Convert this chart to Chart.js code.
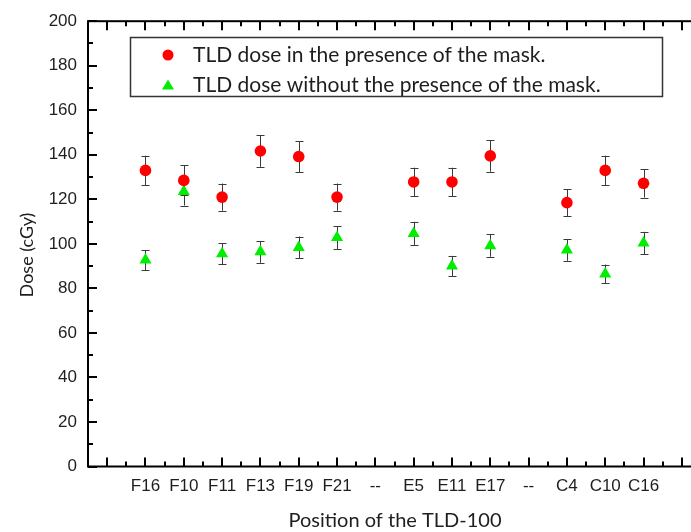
<!DOCTYPE html>
<html>
<head>
<meta charset="utf-8">
<script src="https://cdn.jsdelivr.net/npm/chart.js@4/dist/chart.umd.min.js"></script>
<style>
  html, body { margin: 0; padding: 0; background: #fff; overflow: hidden; }
  #wrap { position: relative; width: 720px; height: 532px; }
</style>
</head>
<body>
<div id="wrap"><canvas id="c" width="720" height="532"></canvas></div>
<script>
// Category slots along the x axis (empty slots pad both ends).
const positions = ["", "F16", "F10", "F11", "F13", "F19", "F21", "--", "E5", "E11", "E17", "--", "C4", "C10", "C16", ""];
// Slot index of every measured TLD position.
const measuredAt = [1, 2, 3, 4, 5, 6, 8, 9, 10, 12, 13, 14];
// Dose (cGy) with the mask in place, and its uncertainty.
const withMask    = [133.0, 128.5, 121.0, 141.7, 139.2, 121.0, 127.8, 127.8, 139.5, 118.5, 133.0, 127.2];
const withMaskErr = [6.6, 6.7, 6.1, 7.1, 6.9, 6.1, 6.4, 6.4, 7.1, 6.0, 6.6, 6.4];
// Dose (cGy) without the mask, and its uncertainty.
const withoutMask    = [92.7, 123.5, 95.5, 96.4, 98.4, 102.8, 104.7, 90.1, 99.2, 97.2, 86.5, 100.4];
const withoutMaskErr = [4.5, 6.3, 4.7, 4.9, 4.9, 5.2, 5.2, 4.5, 5.0, 4.8, 4.2, 5.0];
// Dose axis ticks.
const yTicks = [0, 20, 40, 60, 80, 100, 120, 140, 160, 180, 200];

const legendLabels = [
  "TLD dose in the presence of the mask.",
  "TLD dose without the presence of the mask."
];

const RED = "#ff0000";
const GREEN = "#00ee00";
const TEXT = "#1e1e1e";
const TITLE_FONT = "Lato, 'Open Sans', sans-serif";
const TICK_FONT = "'Liberation Sans', Arial, sans-serif";

const toPoints = (vals, errs) => vals.map((v, i) => ({ x: measuredAt[i], y: v, err: errs[i] }));

// Vertical error bars with caps, drawn beneath the markers.
const errorBars = {
  id: "errorBars",
  beforeDatasetsDraw(chart) {
    const { ctx, scales: { x, y } } = chart;
    ctx.save();
    ctx.strokeStyle = "#3a3a3a";
    ctx.lineWidth = 1;
    chart.data.datasets.forEach(ds => {
      ds.data.forEach(p => {
        const px = Math.round(x.getPixelForValue(p.x)) + 0.5;
        const top = y.getPixelForValue(p.y + p.err);
        const bot = y.getPixelForValue(p.y - p.err);
        ctx.beginPath();
        ctx.moveTo(px, top); ctx.lineTo(px, bot);
        ctx.moveTo(px - 4, Math.round(top) + 0.5); ctx.lineTo(px + 4, Math.round(top) + 0.5);
        ctx.moveTo(px - 4, Math.round(bot) + 0.5); ctx.lineTo(px + 4, Math.round(bot) + 0.5);
        ctx.stroke();
      });
    });
    ctx.restore();
  }
};

// Closed frame with inward major/minor tick marks on all four sides.
const frame = {
  id: "frame",
  afterDatasetsDraw(chart) {
    const { ctx, chartArea: a, scales: { x, y } } = chart;
    ctx.save();
    ctx.strokeStyle = "#000";
    ctx.lineWidth = 2;
    ctx.strokeRect(a.left, a.top, a.right - a.left, a.bottom - a.top);
    ctx.beginPath();
    for (let v = 0; v <= 200; v += 10) {
      const py = Math.round(y.getPixelForValue(v));
      const len = v % 20 === 0 ? 9 : 5;
      ctx.moveTo(a.left, py); ctx.lineTo(a.left + len, py);
      ctx.moveTo(a.right, py); ctx.lineTo(a.right - len, py);
    }
    for (let v = 0; v <= positions.length - 1; v += 0.5) {
      const px = Math.round(x.getPixelForValue(v));
      const len = Number.isInteger(v) ? 9 : 5;
      ctx.moveTo(px, a.bottom); ctx.lineTo(px, a.bottom - len);
      ctx.moveTo(px, a.top); ctx.lineTo(px, a.top + len);
    }
    ctx.stroke();
    ctx.restore();
  }
};

// Boxed legend in the upper part of the plot, plus both axis titles.
const annotations = {
  id: "annotations",
  afterDraw(chart) {
    const { ctx } = chart;
    ctx.save();
    ctx.fillStyle = "#fff";
    ctx.fillRect(130, 37, 533, 60);
    ctx.strokeStyle = "#333";
    ctx.lineWidth = 1.5;
    ctx.strokeRect(130.5, 37.5, 532, 59);

    ctx.fillStyle = RED;
    ctx.beginPath(); ctx.arc(168, 55, 5.5, 0, Math.PI * 2); ctx.fill();
    ctx.fillStyle = GREEN;
    ctx.beginPath();
    ctx.moveTo(168, 79.5); ctx.lineTo(174, 89.5); ctx.lineTo(162, 89.5); ctx.closePath(); ctx.fill();

    ctx.fillStyle = TEXT;
    ctx.font = "21px " + TITLE_FONT;
    ctx.textBaseline = "middle";
    ctx.textAlign = "left";
    ctx.fillText(legendLabels[0], 193, 55);
    ctx.fillText(legendLabels[1], 193, 85);

    ctx.font = "20px " + TITLE_FONT;
    ctx.textAlign = "center";
    ctx.fillText("Position of the TLD-100", 395, 521);
    ctx.translate(27, 255);
    ctx.rotate(-Math.PI / 2);
    ctx.font = "18px " + TITLE_FONT;
    ctx.fillText("Dose (cGy)", 0, 0);
    ctx.restore();
  }
};

new Chart(document.getElementById("c"), {
  type: "scatter",
  data: {
    datasets: [
      {
        label: legendLabels[0],
        data: toPoints(withMask, withMaskErr),
        pointStyle: "circle",
        pointRadius: 5.8,
        pointBackgroundColor: RED,
        pointBorderColor: RED,
        pointBorderWidth: 0
      },
      {
        label: legendLabels[1],
        data: toPoints(withoutMask, withoutMaskErr),
        pointStyle: "triangle",
        pointRadius: 7,
        pointBackgroundColor: GREEN,
        pointBorderColor: GREEN,
        pointBorderWidth: 0
      }
    ]
  },
  options: {
    responsive: false,
    animation: false,
    layout: { padding: { left: 0, top: 21, right: 19, bottom: 0 } },
    plugins: { legend: { display: false }, tooltip: { enabled: false } },
    scales: {
      x: {
        type: "linear",
        min: -0.5,
        max: positions.length - 0.5,
        afterBuildTicks(s) { s.ticks = positions.map((_, i) => ({ value: i })); },
        afterFit(s) { s.height = 65.5; },
        grid: { display: false, drawTicks: false },
        border: { display: false },
        ticks: {
          autoSkip: false,
          maxRotation: 0,
          padding: 10,
          color: TEXT,
          font: { family: TICK_FONT, size: 17 },
          callback: v => positions[v] ?? ""
        }
      },
      y: {
        min: 0,
        max: 200,
        afterBuildTicks(s) { s.ticks = yTicks.map(v => ({ value: v })); },
        afterFit(s) { s.width = 88; },
        grid: { display: false, drawTicks: false },
        border: { display: false },
        ticks: {
          padding: 11,
          color: TEXT,
          font: { family: TICK_FONT, size: 17 }
        }
      }
    }
  },
  plugins: [errorBars, frame, annotations]
});
</script>
</body>
</html>
